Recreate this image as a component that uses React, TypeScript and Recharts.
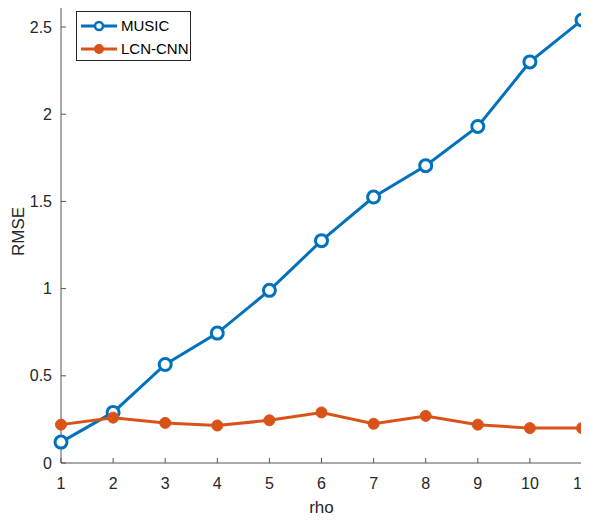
import { LineChart, Line, XAxis, YAxis } from 'recharts';

const rho = [1, 2, 3, 4, 5, 6, 7, 8, 9, 10, 11];
const musicRmse = [0.12, 0.29, 0.565, 0.745, 0.99, 1.275, 1.525, 1.705, 1.93, 2.3, 2.54];
const lcnCnnRmse = [0.22, 0.26, 0.23, 0.215, 0.245, 0.29, 0.225, 0.27, 0.22, 0.2, 0.2];
const yTicks = [0, 0.5, 1, 1.5, 2, 2.5];

const BLUE = '#0072BD';
const ORANGE = '#D95319';
const AXIS = '#555';
const FONT = '"Liberation Sans", Arial, sans-serif';

const data = rho.map((r, i) => ({ rho: r, music: musicRmse[i], lcn: lcnCnnRmse[i] }));

function LegendBox() {
  const rows = [
    { name: 'MUSIC', color: BLUE, open: true },
    { name: 'LCN-CNN', color: ORANGE, open: false },
  ];
  return (
    <div
      style={{
        position: 'absolute',
        left: 76,
        top: 11,
        border: '1px solid #262626',
        background: '#fff',
        width: 115,
        height: 50,
        boxSizing: 'border-box',
        padding: '2px 0',
        fontFamily: FONT,
        fontSize: 15,
        color: '#000',
      }}
    >
      {rows.map((r) => (
        <div key={r.name} style={{ display: 'flex', alignItems: 'center', height: 23 }}>
          <svg width={40} height={14} style={{ marginLeft: 4 }}>
            <line x1={0} y1={7} x2={36} y2={7} stroke={r.color} strokeWidth={3} />
            {r.open ? (
              <circle cx={18} cy={7} r={4} fill="#fff" stroke={r.color} strokeWidth={2.5} />
            ) : (
              <circle cx={18} cy={7} r={5} fill={r.color} />
            )}
          </svg>
          <span>{r.name}</span>
        </div>
      ))}
    </div>
  );
}

function YLabel(props: any) {
  const vb = props.viewBox || {};
  const cx = 18;
  const cy = vb.y + vb.height / 2;
  return (
    <text
      x={cx}
      y={cy}
      transform={`rotate(-90, ${cx}, ${cy})`}
      textAnchor="middle"
      dominantBaseline="central"
      fill="#262626"
      fontSize={17}
      fontFamily={FONT}
    >
      RMSE
    </text>
  );
}

export default function App() {
  const tickStyle = { fill: '#262626', fontSize: 16, fontFamily: FONT };
  return (
    <div style={{ margin: -8, position: 'relative', width: 589, height: 521 }}>
      <LineChart
        width={589}
        height={521}
        data={data}
        margin={{ top: 0, right: 7, left: 0, bottom: 0 }}
      >
        <XAxis
          dataKey="rho"
          type="number"
          domain={[1, 11]}
          ticks={rho}
          height={58}
          stroke={AXIS}
          tickSize={-5}
          tickMargin={20}
          tick={tickStyle}
          label={{ value: 'rho', position: 'insideBottom', offset: 8, fill: '#262626', fontSize: 17, fontFamily: FONT }}
        />
        <YAxis
          yAxisId="l"
          domain={[0, 2.655]}
          ticks={yTicks}
          allowDataOverflow
          width={61}
          stroke={AXIS}
          tickSize={-5}
          tickMargin={14}
          tick={tickStyle}
          label={<YLabel />}
        />
        <YAxis
          yAxisId="r"
          orientation="right"
          domain={[0, 2.655]}
          ticks={yTicks}
          allowDataOverflow
          width={0}
          stroke={AXIS}
          tickSize={-5}
          tick={() => <g />}
        />
        <Line
          yAxisId="l"
          dataKey="music"
          name="MUSIC"
          stroke={BLUE}
          strokeWidth={3}
          dot={{ r: 6, fill: '#fff', stroke: BLUE, strokeWidth: 3 }}
          activeDot={false}
          isAnimationActive={false}
        />
        <Line
          yAxisId="l"
          dataKey="lcn"
          name="LCN-CNN"
          stroke={ORANGE}
          strokeWidth={3}
          dot={{ r: 5.5, fill: ORANGE, stroke: ORANGE, strokeWidth: 1 }}
          activeDot={false}
          isAnimationActive={false}
        />
      </LineChart>
      <LegendBox />
    </div>
  );
}
